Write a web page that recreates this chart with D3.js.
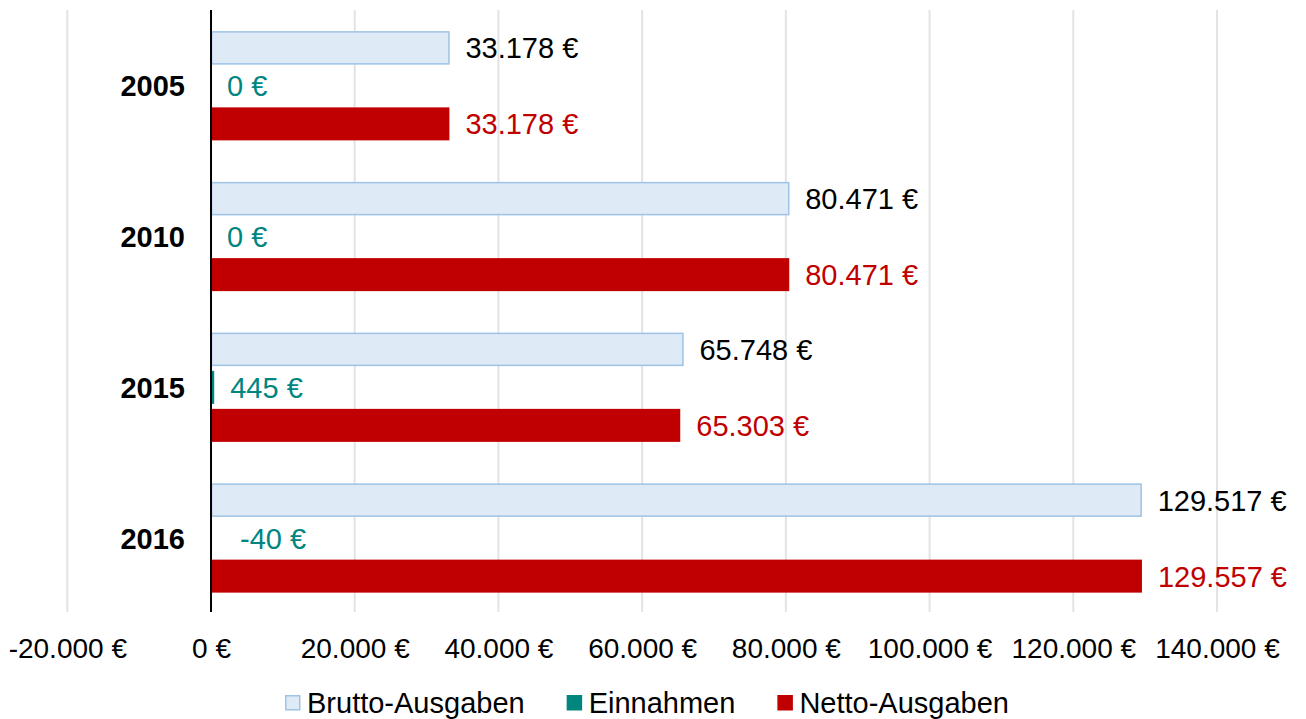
<!DOCTYPE html>
<html>
<head>
<meta charset="utf-8">
<script src="https://cdn.jsdelivr.net/npm/d3@7/dist/d3.min.js"></script>
<style>
  body { margin: 0; background: #fff; }
  text { font-family: "Liberation Sans", Arial, sans-serif; }
</style>
</head>
<body>
<div id="chart"></div>
<script>
// data
const years = ["2005", "2010", "2015", "2016"];
const series = ["Brutto-Ausgaben", "Einnahmen", "Netto-Ausgaben"];
const brutto = [33178, 80471, 65748, 129517];
const einnahmen = [0, 0, 445, -40];
const netto = [33178, 80471, 65303, 129557];
const ticks = [-20000, 0, 20000, 40000, 60000, 80000, 100000, 120000, 140000];

const fills = ["#deeaf6", "#00857f", "#c00000"];
const strokes = ["#9dc3e6", "#00857f", "#c00000"];
const labelColors = ["#000000", "#00857f", "#c00000"];

const W = 1306, H = 719;
const svg = d3.select("#chart").append("svg")
    .attr("width", W)
    .attr("height", H);

const x = d3.scaleLinear().domain([-20000, 140000]).range([67.3, 1217]);
const y = d3.scaleBand().domain(years).range([10.5, 613.5]);
const inner = d3.scaleBand().domain(series).range([-57, 57])
    .paddingInner(5 / 38).paddingOuter(2.5 / 38);

// german number format, plain hyphen for negatives
const fmt = v => (v < 0 ? "-" : "") + d3.format(",")(Math.abs(v)).replace(/,/g, ".") + " €";

// gridlines
svg.append("g").selectAll("line")
    .data(ticks.filter(t => t !== 0))
    .join("line")
    .attr("x1", d => x(d)).attr("x2", d => x(d))
    .attr("y1", 10).attr("y2", 612)
    .attr("stroke", "#e3e3e3")
    .attr("stroke-width", 2);

// tick labels
const axis = d3.axisBottom(x).tickValues(ticks).tickSize(0).tickFormat(fmt);
const gx = svg.append("g").attr("transform", "translate(0,630)").call(axis);
gx.select(".domain").remove();
gx.selectAll("text")
    .attr("dy", 0).attr("y", 28)
    .style("font-size", "28px")
    .style("font-family", "'Liberation Sans', Arial, sans-serif")
    .attr("fill", "#000");

// bars
const rows = years.map((yr, i) => ({year: yr, vals: [brutto[i], einnahmen[i], netto[i]]}));
const groups = svg.append("g").selectAll("g")
    .data(rows)
    .join("g")
    .attr("transform", d => `translate(0,${y(d.year) + y.bandwidth() / 2})`);

groups.each(function(d) {
  const g = d3.select(this);
  d.vals.forEach((v, j) => {
    const y0 = inner(series[j]);
    if (v !== 0) {
      g.append("rect")
        .attr("x", Math.min(x(v), x(0)) + (j === 0 ? 0.5 : 0))
        .attr("y", y0 + (j === 0 ? 0.5 : 0))
        .attr("width", Math.abs(x(v) - x(0)) - (j === 0 ? 1 : 0))
        .attr("height", inner.bandwidth() - (j === 0 ? 1 : 0))
        .attr("fill", fills[j])
        .attr("stroke", j === 0 ? strokes[j] : "none")
        .attr("stroke-width", 1.5);
    }
    g.append("text")
      .attr("x", (v < 0 ? x(0) + 13 : Math.max(x(v), x(0))) + 16)
      .attr("y", y0 + inner.bandwidth() / 2)
      .attr("dy", "0.36em")
      .style("font-size", "29px")
      .attr("fill", labelColors[j])
      .text(fmt(v));
  });
  g.append("text")
    .attr("x", 185)
    .attr("y", 0)
    .attr("dy", "0.36em")
    .attr("text-anchor", "end")
    .style("font-size", "29px")
    .style("font-weight", "bold")
    .text(d.year);
});

// zero axis line
svg.append("line")
    .attr("x1", x(0)).attr("x2", x(0))
    .attr("y1", 10).attr("y2", 612)
    .attr("stroke", "#000")
    .attr("stroke-width", 2);

// legend
const legend = svg.append("g").attr("transform", "translate(0,703)");
let lx = 285;
series.forEach((s, j) => {
  legend.append("rect")
    .attr("x", lx + 0.75).attr("y", -7.25)
    .attr("width", 14).attr("height", 14)
    .attr("fill", fills[j])
    .attr("stroke", strokes[j])
    .attr("stroke-width", 1.5);
  const t = legend.append("text")
    .attr("x", lx + 22)
    .attr("y", 0)
    .attr("dy", "0.36em")
    .style("font-size", "29px")
    .text(s);
  lx += 22 + t.node().getComputedTextLength() + 42;
});
</script>
</body>
</html>
